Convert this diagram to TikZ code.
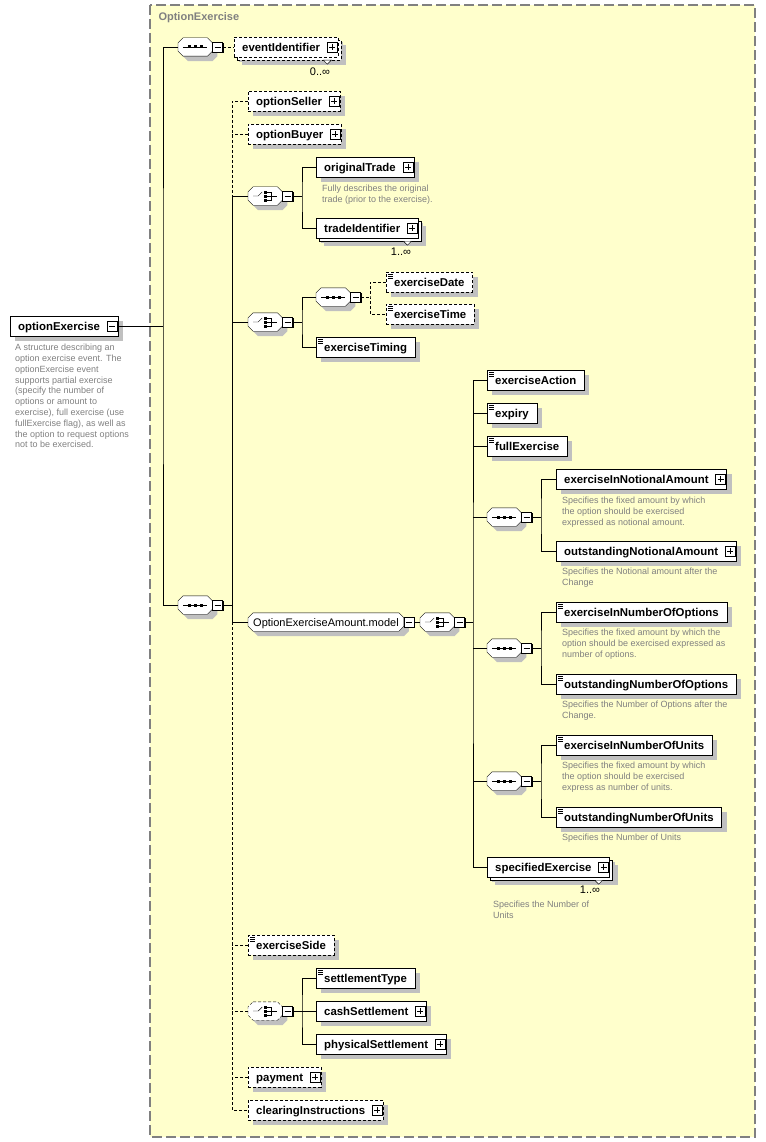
\documentclass[tikz,border=0pt]{standalone}
\usepackage{fontspec}
\setmainfont{Liberation Sans}
\usetikzlibrary{calc,positioning,shadows,backgrounds}
\definecolor{groupfill}{RGB}{255,255,204}
\definecolor{groupline}{RGB}{128,128,128}
\definecolor{doctext}{RGB}{128,128,128}
\definecolor{shade}{RGB}{192,192,192}
\tikzset{
  optline/.style = {dash pattern=on 3pt off 2pt},
  elem/.style = {draw, fill=white, anchor=west, minimum height=20pt, inner xsep=8pt, inner ysep=0pt,
    text height=9.5pt, text depth=0pt, font=\fontsize{11.4}{13}\selectfont\bfseries,
    drop shadow={shadow xshift=5pt, shadow yshift=-5pt, fill=shade, opacity=1}},
  optelem/.style = {elem, optline},
  stacked/.style = {drop shadow={shadow xshift=8pt, shadow yshift=-8pt, fill=shade, opacity=1},
    general shadow={shadow xshift=3pt, shadow yshift=-3pt, fill=white, draw=black}},
  comp/.style = {anchor=west, minimum width=34pt, minimum height=18pt, inner sep=0pt},
  group/.style = {anchor=west, minimum height=18pt, inner xsep=5pt, inner ysep=0pt,
    text height=8.5pt, text depth=0pt, font=\fontsize{11}{13}\selectfont},
  octa/.style = {draw, fill=white,
    drop shadow={shadow xshift=5pt, shadow yshift=-5pt, fill=shade, opacity=1}},
  pmbox/.style = {draw, solid, fill=white, minimum size=10pt, inner sep=0pt,
    drop shadow={shadow xshift=1pt, shadow yshift=-1pt, fill=black, opacity=1}},
  minusbox/.style = {pmbox, path picture={
    \draw ($(path picture bounding box.west)+(2,0)$)to($(path picture bounding box.east)+(-2,0)$);}},
  plusbox/.style = {pmbox, path picture={
    \draw ($(path picture bounding box.west)+(2,0)$)to($(path picture bounding box.east)+(-2,0)$);
    \draw ($(path picture bounding box.north)+(0,2)$)to($(path picture bounding box.south)+(0,-2)$);}},
  doc/.style = {anchor=north west, inner sep=0pt, align=left, text=doctext,
    font=\fontsize{9}{10.8}\selectfont},
  mult/.style = {inner sep=0pt, font=\fontsize{11}{12}\selectfont}
}
% small boxes on the right edge of a node
\newcommand{\addplus}[1]{\node[plusbox, left=1pt of #1.east] (#1-p) {};}
\newcommand{\addminus}[1]{\node[minusbox, left=1pt of #1.east] (#1-m) {};}
\newcommand{\compminus}[1]{\node[minusbox, right=0pt of #1] (#1-m) {};}
% cut-corner outline behind a compositor or group
\newcommand{\octagon}[2][]{%
  \begin{scope}[on background layer]
  \path[octa,#1]($(#2.north west)+(5,0)$)--($(#2.north east)+(-5,0)$)--($(#2.north east)+(0,5)$)
    --($(#2.south east)+(0,-5)$)--($(#2.south east)+(-5,0)$)--($(#2.south west)+(5,0)$)
    --($(#2.south west)+(0,-5)$)--($(#2.north west)+(0,5)$)--cycle;
  \end{scope}}
% sequence and choice marks
\newcommand{\seqmark}[1]{%
  \draw(#1.center)++(-12,0)to++(24,0);
  \foreach \dx in {-6,0,6} \fill($(#1.center)+(\dx-1.5,-1.5)$)rectangle++(3,3);}
\newcommand{\choicemark}[1]{%
  \draw($(#1.center)+(-12,0)$)to($(#1.center)+(-7,0)$)to($(#1.center)+(-3,-4)$);
  \foreach \dy in {-4,0,4} \fill($(#1.center)+(-1,\dy-1.5)$)rectangle++(3,3);
  \draw($(#1.center)+(2,-4)$)--($(#1.center)+(6,-4)$)--($(#1.center)+(6,4)$)--($(#1.center)+(2,4)$)
    ($(#1.center)+(2,0)$)--($(#1.center)+(12,0)$);}
% simple type mark
\newcommand{\simpletype}[1]{\foreach \k in {2,4,6} \draw[solid]($(#1.north west)+(2,\k)$)to++(5,0);}
% more-than-one mark
\newcommand{\manymark}[1]{\draw[fill=white]($(#1.south east)+(-15,3)$)--++(8,0)--++(-4,4)--cycle;}

\begin{document}
\begin{tikzpicture}[x=1pt, y=-1pt]
  \useasboundingbox (0,0) rectangle (765,1142);
  % complex type
  \begin{scope}[on background layer]
  \draw[groupline, fill=groupfill, line width=1.2pt, dash pattern=on 10pt off 4pt](150,5)rectangle(755,1137);
  \end{scope}
  \node[anchor=west, text=groupline, font=\fontsize{11}{13}\selectfont\bfseries] (title) at (155,18) {OptionExercise};

  % root element
  \node[elem] (root) at (10,326) {optionExercise\kern10pt};
  \addminus{root}
  \node[doc] (root-doc) at (15,344) {A structure describing an\\option exercise event. The\\optionExercise event\\supports partial exercise\\(specify the number of\\options or amount to\\exercise), full exercise (use\\fullExercise flag), as well as\\the option to request options\\not to be exercised.};

  % first level
  \node[comp] (seqTop) at (178,47) {};
  \octagon{seqTop}\seqmark{seqTop}
  \compminus{seqTop}
  \node[optelem, stacked] (evId) at (234,47) {eventIdentifier\kern10pt};
  \addplus{evId}
  \manymark{evId}
  \node[mult] (evId-mult) at (320,72) {0..∞};
  \node[comp] (seqMain) at (178,605) {};
  \octagon{seqMain}\seqmark{seqMain}
  \compminus{seqMain}

  % second level
  \node[optelem] (oSeller) at (248,101) {optionSeller\kern10pt};
  \addplus{oSeller}
  \node[optelem] (oBuyer) at (248,134) {optionBuyer\kern10pt};
  \addplus{oBuyer}
  \node[comp] (choiceTrade) at (248,196) {};
  \octagon{choiceTrade}\choicemark{choiceTrade}
  \compminus{choiceTrade}
  \node[elem] (origTrade) at (316,167) {originalTrade\kern10pt};
  \addplus{origTrade}
  \node[doc] (origTrade-doc) at (322,185) {Fully describes the original\\trade (prior to the exercise).};
  \node[elem, stacked] (tradeId) at (316,228) {tradeIdentifier\kern10pt};
  \addplus{tradeId}
  \manymark{tradeId}
  \node[mult] (tradeId-mult) at (401,252) {1..∞};

  \node[comp] (choiceDate) at (248,322) {};
  \octagon{choiceDate}\choicemark{choiceDate}
  \compminus{choiceDate}
  \node[comp] (seqDate) at (316,297) {};
  \octagon{seqDate}\seqmark{seqDate}
  \compminus{seqDate}
  \node[optelem] (exDate) at (386,282) {exerciseDate};
  \simpletype{exDate}
  \node[optelem] (exTime) at (386,314) {exerciseTime};
  \simpletype{exTime}
  \node[elem] (exTiming) at (316,347) {exerciseTiming};
  \simpletype{exTiming}

  \node[group] (model) at (248,622) {OptionExerciseAmount.model};
  \octagon{model}
  \compminus{model}
  \node[comp] (choiceAmt) at (420,622) {};
  \octagon{choiceAmt}\choicemark{choiceAmt}
  \compminus{choiceAmt}

  % amount choice
  \node[elem] (exAction) at (487,380) {exerciseAction};
  \simpletype{exAction}
  \node[elem] (expiry) at (487,413) {expiry};
  \simpletype{expiry}
  \node[elem] (fullEx) at (487,446) {fullExercise};
  \simpletype{fullEx}

  \node[comp] (seqNotional) at (487,517) {};
  \octagon{seqNotional}\seqmark{seqNotional}
  \compminus{seqNotional}
  \node[elem] (exInNot) at (556,479) {exerciseInNotionalAmount\kern10pt};
  \addplus{exInNot}
  \node[doc] (exInNot-doc) at (562,497) {Specifies the fixed amount by which\\the option should be exercised\\expressed as notional amount.};
  \node[elem] (outNot) at (556,551) {outstandingNotionalAmount\kern10pt};
  \addplus{outNot}
  \node[doc] (outNot-doc) at (562,568) {Specifies the Notional amount after the\\Change};

  \node[comp] (seqOptions) at (487,648) {};
  \octagon{seqOptions}\seqmark{seqOptions}
  \compminus{seqOptions}
  \node[elem] (exInOpt) at (556,612) {exerciseInNumberOfOptions};
  \simpletype{exInOpt}
  \node[doc] (exInOpt-doc) at (562,629) {Specifies the fixed amount by which the\\option should be exercised expressed as\\number of options.};
  \node[elem] (outOpt) at (556,684) {outstandingNumberOfOptions};
  \simpletype{outOpt}
  \node[doc] (outOpt-doc) at (562,701) {Specifies the Number of Options after the\\Change.};

  \node[comp] (seqUnits) at (487,781) {};
  \octagon{seqUnits}\seqmark{seqUnits}
  \compminus{seqUnits}
  \node[elem] (exInUnits) at (556,745) {exerciseInNumberOfUnits};
  \simpletype{exInUnits}
  \node[doc] (exInUnits-doc) at (562,762) {Specifies the fixed amount by which\\the option should be exercised\\express as number of units.};
  \node[elem] (outUnits) at (556,817) {outstandingNumberOfUnits};
  \simpletype{outUnits}
  \node[doc] (outUnits-doc) at (562,834) {Specifies the Number of Units};

  \node[elem, stacked] (specEx) at (487,867) {specifiedExercise\kern10pt};
  \addplus{specEx}
  \manymark{specEx}
  \node[mult] (specEx-mult) at (590,890) {1..∞};
  \node[doc] (specEx-doc) at (493,901) {Specifies the Number of\\Units};

  % settlement
  \node[optelem] (exSide) at (248,945) {exerciseSide};
  \simpletype{exSide}
  \node[comp] (choiceSettle) at (248,1011) {};
  \octagon[optline]{choiceSettle}\choicemark{choiceSettle}
  \compminus{choiceSettle}
  \node[elem] (settleType) at (316,978) {settlementType};
  \simpletype{settleType}
  \node[elem] (cashSettle) at (316,1011) {cashSettlement\kern10pt};
  \addplus{cashSettle}
  \node[elem] (physSettle) at (316,1044) {physicalSettlement\kern10pt};
  \addplus{physSettle}
  \node[optelem] (payment) at (248,1077) {payment\kern10pt};
  \addplus{payment}
  \node[optelem] (clearing) at (248,1110) {clearingInstructions\kern10pt};
  \addplus{clearing}

  % junctions
  \coordinate (j0) at (163,326);
  \coordinate (j1) at (232,605);
  \coordinate (j2) at (302,196);
  \coordinate (j3) at (302,322);
  \coordinate (j4) at (370,297);
  \coordinate (j5) at (473,622);
  \coordinate (j6) at (541,517);
  \coordinate (j7) at (541,648);
  \coordinate (j8) at (541,781);
  \coordinate (j9) at (302,1011);

  % connectors
  \draw(root-m.east)to(j0);
  \draw(seqTop.west)-|(j0)|-(seqMain.west);
  \draw[optline](seqTop-m.east)to(evId.west);
  \draw(seqMain-m.east)to(j1);
  \draw[optline](oSeller.west)-|(choiceTrade.west -| j1);
  \draw(choiceTrade.west)-|(model.west -| j1)to(model.west);
  \draw(choiceDate.west)to(choiceDate.west -| j1);
  \draw[optline](model.west -| j1)|-(clearing.west);
  \foreach \n in {oBuyer,exSide,choiceSettle,payment}
  {
  \draw[optline](\n.west)to(\n.west -| j1);
  }
  \draw(choiceTrade-m.east)to(j2);
  \draw(origTrade.west)-|(j2)|-(tradeId.west);
  \draw(choiceDate-m.east)to(j3);
  \draw(seqDate.west)-|(j3)|-(exTiming.west);
  \draw[optline](seqDate-m.east)to(j4);
  \draw[optline](exDate.west)-|(j4)|-(exTime.west);
  \draw(model-m.east)to(choiceAmt.west);
  \draw(choiceAmt-m.east)to(j5);
  \draw(exAction.west)-|(j5)|-(specEx.west);
  \foreach \n in {expiry,fullEx,seqNotional,seqOptions,seqUnits}
  {
  \draw(\n.west)to(\n.west -| j5);
  }
  \draw(seqNotional-m.east)to(j6);
  \draw(exInNot.west)-|(j6)|-(outNot.west);
  \draw(seqOptions-m.east)to(j7);
  \draw(exInOpt.west)-|(j7)|-(outOpt.west);
  \draw(seqUnits-m.east)to(j8);
  \draw(exInUnits.west)-|(j8)|-(outUnits.west);
  \draw(choiceSettle-m.east)to(j9);
  \draw(settleType.west)-|(j9)|-(physSettle.west);
  \draw(cashSettle.west)to(cashSettle.west -| j9);
\end{tikzpicture}
\end{document}
